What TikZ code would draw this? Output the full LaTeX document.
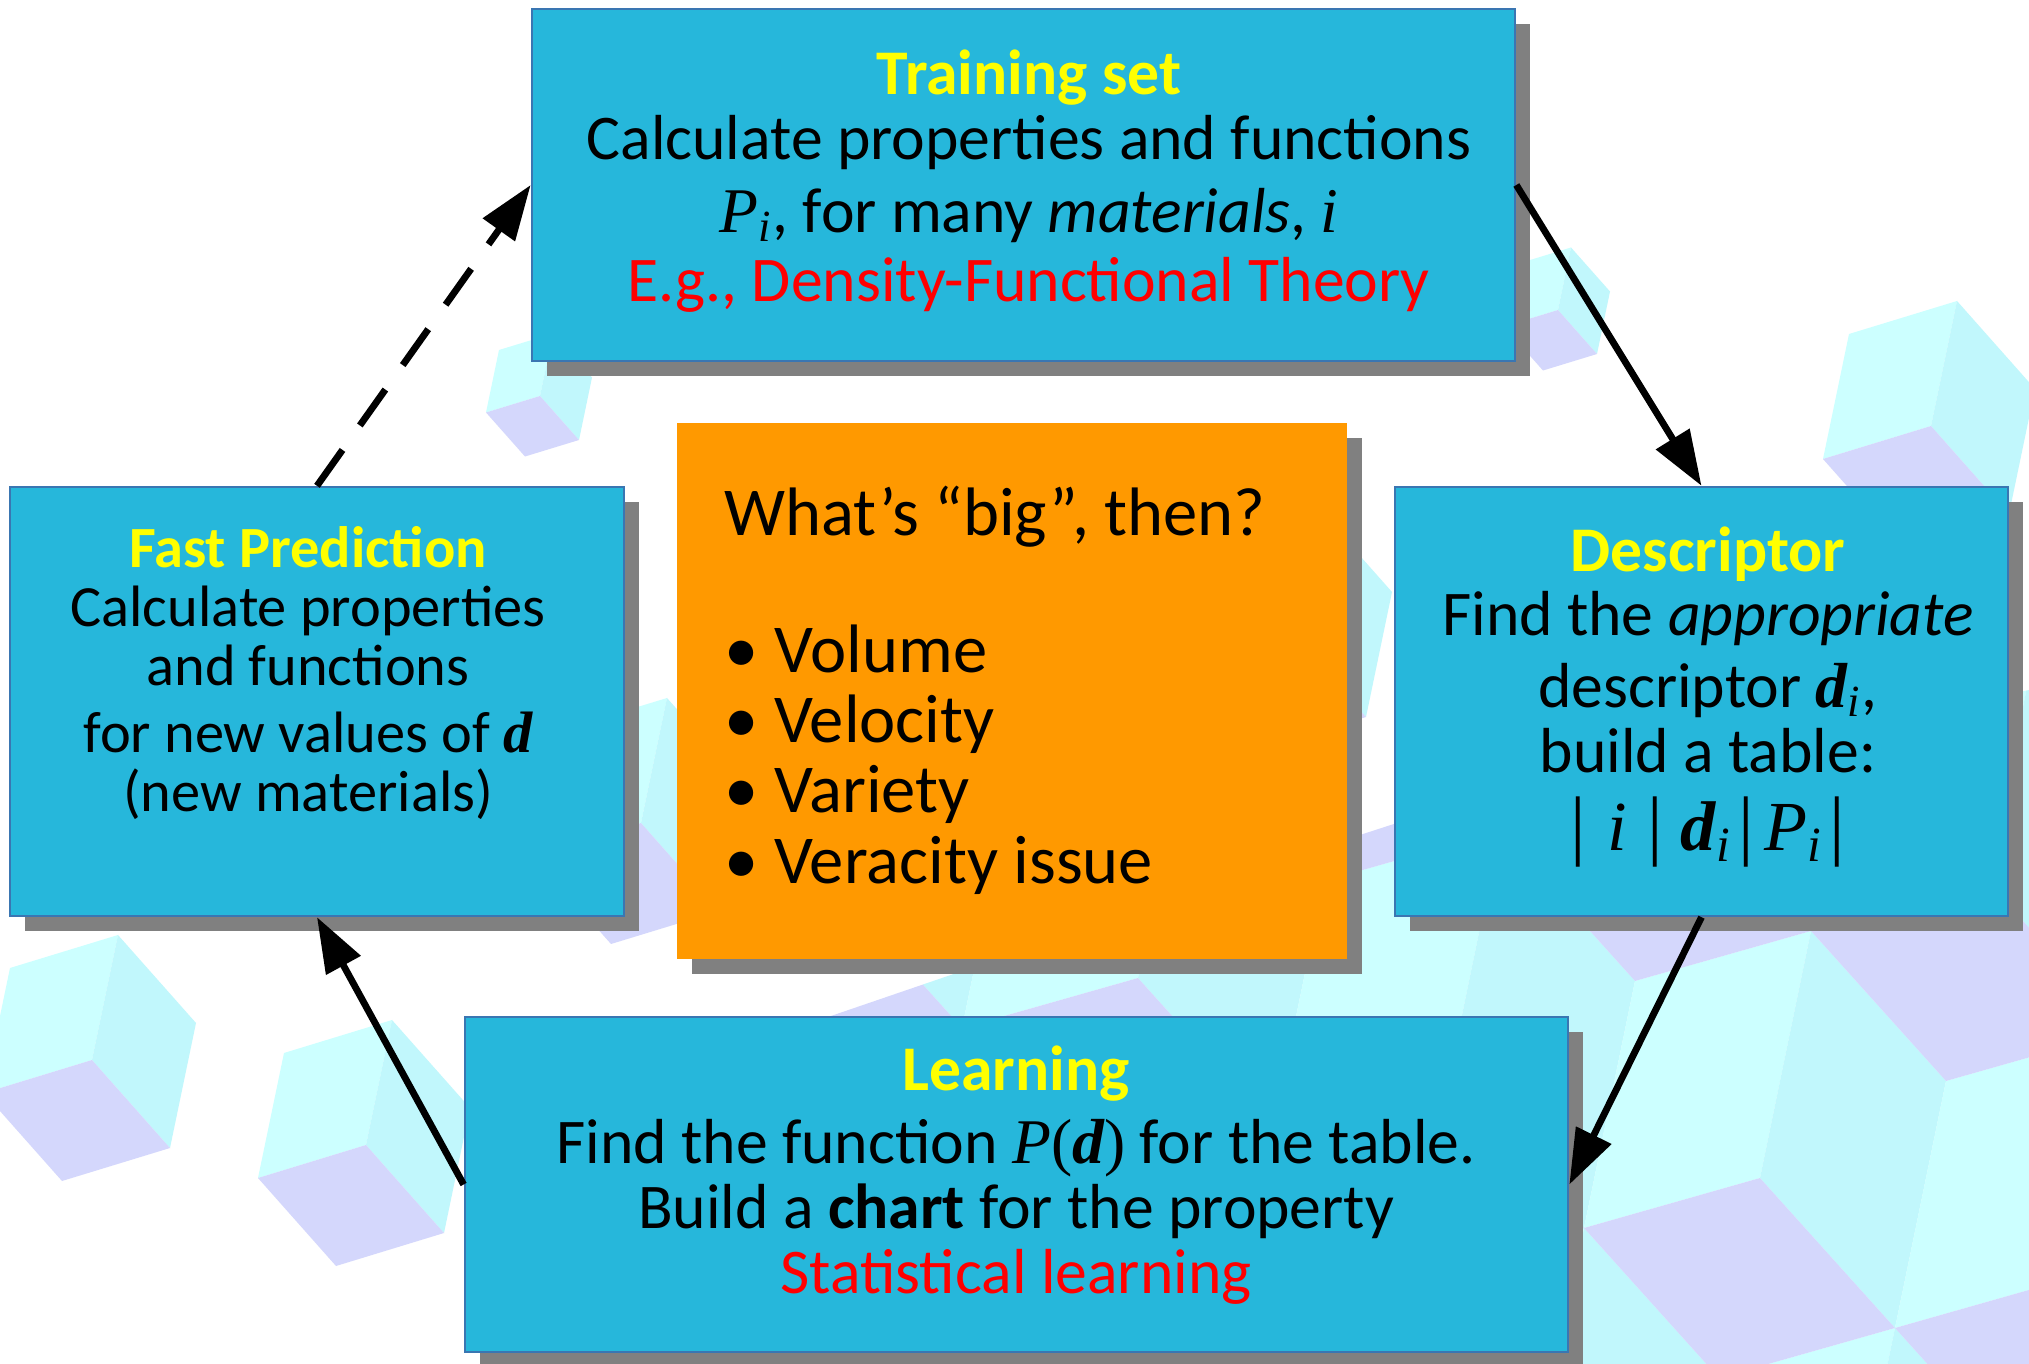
\documentclass[tikz,border=0pt]{standalone}
\usepackage{fontspec}
\setmainfont{Carlito}
\newfontfamily\tms{Liberation Serif}
\usetikzlibrary{arrows.meta,shadows}

\definecolor{boxblue}{RGB}{38,183,219}
\definecolor{boxedge}{RGB}{58,118,178}
\definecolor{shadowgray}{RGB}{128,128,128}
\definecolor{bigorange}{RGB}{255,153,0}
\definecolor{titleyellow}{RGB}{255,255,0}
\definecolor{cubelight}{RGB}{204,255,255}
\definecolor{cuberight}{RGB}{193,247,252}
\definecolor{cubelav}{RGB}{212,215,252}

% serif italic symbols used in the box texts
\newcommand{\sv}[1]{{\tms\itshape #1}}
\newcommand{\bv}[1]{{\tms\bfseries\itshape #1}}
\newcommand{\sbi}[1]{\textsubscript{\tms\itshape #1}}
\newcommand{\vbar}{{\tms\fontsize{22}{22}\selectfont|}}

% a single pale cube: inner corner (#1,#2), size factor #3
\newcommand{\cubeat}[3]{%
  \begin{scope}[shift={(#1,#2)},scale=#3]
    \fill[cubelight] (0,0) -- (26,-125) -- (-82,-92) -- (-108,33) -- cycle;
    \fill[cuberight] (0,0) -- (26,-125) -- (104,-37) -- (78,88) -- cycle;
    \fill[cubelav]   (0,0) -- (78,88) -- (-30,121) -- (-108,33) -- cycle;
  \end{scope}}

% a block of the large stacked pattern, inner corner (#1,#2)
\newcommand{\latcube}[2]{%
  \begin{scope}[shift={(#1,#2)}]
    \fill[cubelight] (0,0) -- (51,-247) -- (-125,-197) -- (-176,50) -- cycle;
    \fill[cuberight] (0,0) -- (51,-247) -- (186,-97) -- (135,150) -- cycle;
    \fill[cubelav]   (0,0) -- (135,150) -- (-41,200) -- (-176,50) -- cycle;
  \end{scope}}

\tikzset{
  bluebox/.style={draw=boxedge, line width=0.6pt, fill=boxblue, inner sep=0pt,
    general shadow={fill=shadowgray, draw=none, shadow xshift=0.15cm, shadow yshift=-0.15cm}},
  orangebox/.style={fill=bigorange, inner sep=0pt,
    general shadow={fill=shadowgray, draw=none, shadow xshift=0.15cm, shadow yshift=-0.15cm}},
  txt/.style={align=center, inner sep=0pt},
  arr/.style={-{Triangle[length=0.55cm,width=0.38cm]}, line width=0.068cm, black},
  dasharr/.style={arr, dash pattern=on 0.44cm off 0.3cm},
}

\begin{document}
\begin{tikzpicture}[x=0.01cm,y=-0.01cm]
\useasboundingbox (0,0) rectangle (2029,1364);
\clip (0,0) rectangle (2029,1364);
\fill[white] (0,0) rectangle (2029,1364);

% scattered cubes in the background
\cubeat{540}{396}{0.5}
\cubeat{1558}{310}{0.5}
\cubeat{92}{1060}{1}
\cubeat{366}{1145}{1}
\cubeat{641}{823}{1}
\cubeat{1931}{426}{1}
\cubeat{1288}{629}{1}

% stacked blocks filling the lower right
\begin{scope}
  \clip (790,1030) -- (1360,835) -- (1400,822) -- (2029,690) -- (2029,1364) -- (700,1364) -- cycle;
  \foreach \m in {-1,0,1,2} {
    \foreach \n in {-3,...,2} {
      \pgfmathsetmacro\cx{1760-84*\m+311*\n}
      \pgfmathsetmacro\cy{1178-397*\m+100*\n}
      \latcube{\cx}{\cy}
    }
  }
\end{scope}

% boxes
\node[bluebox, minimum width=9.83cm, minimum height=3.52cm] (train) at (1023.5,185) {};
\node[bluebox, minimum width=6.14cm, minimum height=4.29cm] (fast) at (317,701.5) {};
\node[bluebox, minimum width=6.13cm, minimum height=4.29cm] (desc) at (1701.5,701.5) {};
\node[bluebox, minimum width=11.03cm, minimum height=3.35cm] (learn) at (1016.5,1184.5) {};
\node[orangebox, minimum width=6.70cm, minimum height=5.36cm] (big) at (1012,691) {};

% box texts
\node[txt, font=\fontsize{18.1}{19.6}\selectfont] (train-text) at (1029,181) {%
  {\bfseries\color{titleyellow}Training set}\\[-1pt]
  Calculate properties and functions\\[1pt]
  \sv{P}\sbi{i}, for many \textit{materials}, \sv{i}\\
  \textcolor{red}{E.g., Density-Functional Theory}};

\node[txt, font=\fontsize{16.6}{16.8}\selectfont] (fast-text) at (308,673) {%
  {\bfseries\color{titleyellow}Fast Prediction}\\
  Calculate properties\\
  and functions\\[2pt]
  for new values of \bv{d}\\
  (new materials)};

\node[txt, font=\fontsize{18.1}{18.4}\selectfont] (desc-text) at (1708,697) {%
  {\bfseries\color{titleyellow}Descriptor}\\
  Find the \textit{appropriate}\\[2pt]
  descriptor \bv{d}\sbi{i},\\
  build a table:\\[4pt]
  \vbar\hspace{6pt}{\fontsize{20}{20}\selectfont\sv{i}}\hspace{6pt}\vbar\hspace{5pt}{\fontsize{20}{20}\selectfont\bv{d}\sbi{i}}\hspace{2pt}\vbar\hspace{3pt}{\fontsize{20}{20}\selectfont\sv{P}\sbi{i}}\hspace{2pt}\vbar};

\node[txt, font=\fontsize{18.1}{18.4}\selectfont] (learn-text) at (1016,1175) {%
  {\bfseries\color{titleyellow}Learning}\\[2.4pt]
  Find the function \sv{P}{\tms(}\bv{d}{\tms)} for the table.\\
  Build a \textbf{chart} for the property\\
  \textcolor{red}{Statistical learning}};

\node[txt, align=left, anchor=west, font=\fontsize{19.5}{20}\selectfont] (big-text) at (724,690) {%
  What’s “big”, then?\\[19pt]
  • Volume\\
  • Velocity\\
  • Variety\\
  • Veracity issue};

% cycle of steps
\draw[arr] (train.east) -- (desc.north);
\draw[arr] (desc.south) -- (learn.east);
\draw[arr] (learn.west) -- (fast.south);
\draw[dasharr] (fast.north) -- (train.west);
\end{tikzpicture}
\end{document}
